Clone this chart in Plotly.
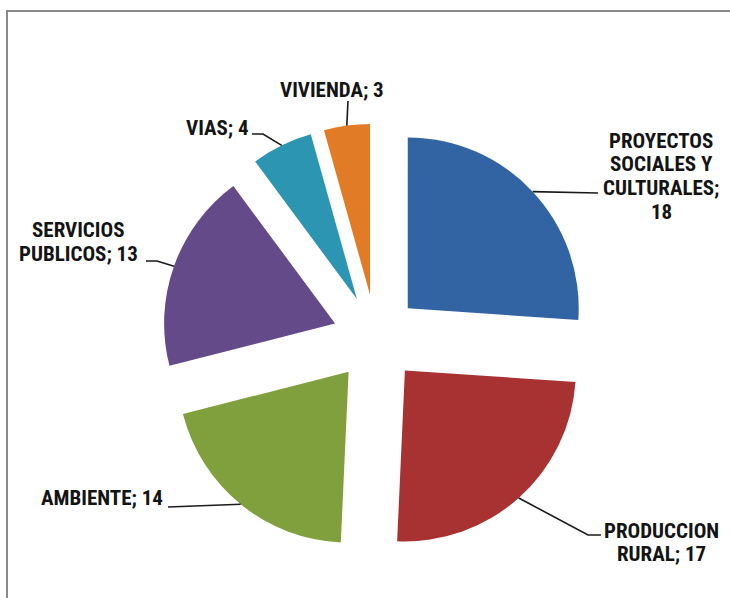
import math
import plotly.graph_objects as go

# ---- data ----
categories = ["PROYECTOS SOCIALES Y CULTURALES", "PRODUCCION RURAL", "AMBIENTE",
              "SERVICIOS PUBLICOS", "VIAS", "VIVIENDA"]
values = [18, 17, 14, 13, 4, 3]
label_lines = [
    ["PROYECTOS", "SOCIALES Y", "CULTURALES;", "18"],
    ["PRODUCCION", "RURAL; 17"],
    ["AMBIENTE; 14"],
    ["SERVICIOS", "PUBLICOS; 13"],
    ["VIAS; 4"],
    ["VIVIENDA; 3"],
]
colors = ["#3264a4", "#a83131", "#7fa03c", "#644a88", "#2c96b2", "#e27b25"]

# ---- layout constants (pixels) ----
W, H = 730, 598
CX, CY = 376, 338          # pie centre
R_OUT = 214.4              # half size of pie domain
PULL = 0.254

# label placement: centre x, centre y of first line, leader elbow points (from slice outward)
label_pos = [
    (661, 140.5, [(598, 193)]),
    (661, 530.5, [(588, 535), (601, 535)]),
    (102, 498, [(168, 507)]),
    (78, 230, [(157, 261), (146, 261)]),
    (217, 127.5, [(263, 134), (252, 134)]),
    (332, 90, [(348, 101)]),
]
LINE_STEP = 23.7
FONT = "Liberation Sans Narrow, Arial Narrow, Roboto Condensed, DejaVu Sans Condensed, sans-serif"


def px(x):
    return x / W


def py(y):
    return 1 - y / H


fig = go.Figure(go.Pie(
    labels=categories, values=values, sort=False, direction="clockwise", rotation=0,
    pull=[PULL] * len(values), textinfo="none", hoverinfo="label+value",
    marker=dict(colors=colors, line=dict(width=0)),
    domain=dict(x=[px(CX - R_OUT), px(CX + R_OUT)], y=[py(CY + R_OUT), py(CY - R_OUT)]),
    showlegend=False,
))

annotations = []
shapes = []
total = sum(values)
cum = 0
for i, v in enumerate(values):
    mid = (cum + v / 2) / total * 2 * math.pi
    cum += v
    ox = CX + R_OUT * math.sin(mid)
    oy = CY - R_OUT * math.cos(mid)
    lx, ly, elbow = label_pos[i]
    pts = [(ox, oy)] + elbow
    path = "M " + " L ".join(f"{px(x):.5f},{py(y):.5f}" for x, y in pts)
    shapes.append(dict(type="path", xref="paper", yref="paper", path=path,
                       line=dict(color="#1a1a1a", width=1.6)))
    for j, t in enumerate(label_lines[i]):
        annotations.append(dict(
            x=px(lx), y=py(ly + j * LINE_STEP), xref="paper", yref="paper",
            text=f"<b>{t}</b>", showarrow=False, xanchor="center", yanchor="middle",
            font=dict(family=FONT, size=21, color="#141414"),
        ))

# outer frame
shapes.append(dict(type="rect", xref="paper", yref="paper",
                   x0=px(7), y0=py(640), x1=px(760), y1=py(11),
                   line=dict(color="#8a8a8a", width=2), layer="below"))

fig.update_layout(
    width=W, height=H, margin=dict(l=0, r=0, t=0, b=0),
    paper_bgcolor="white", plot_bgcolor="white",
    annotations=annotations, shapes=shapes,
)
fig.write_html("out.html", config={"displayModeBar": False},
               post_script="document.body.style.margin='0';")
